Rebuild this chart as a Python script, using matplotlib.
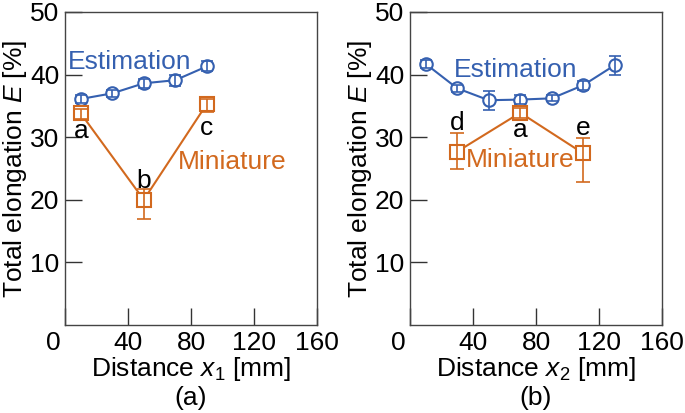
import numpy as np
import matplotlib
matplotlib.use("Agg")
import matplotlib.pyplot as plt
import matplotlib.transforms as mtransforms

plt.rcParams["font.family"] = ["Liberation Sans", "DejaVu Sans"]
plt.rcParams["mathtext.fontset"] = "custom"
plt.rcParams["mathtext.rm"] = "Liberation Sans"
plt.rcParams["mathtext.it"] = "Liberation Sans:italic"

# ---- data ----
# panel (a)
est_x_a = [10, 30, 50, 70, 90]
est_y_a = [36.1, 37.0, 38.6, 39.1, 41.3]
est_err_a = [0.6, 0.6, 0.7, 0.9, 0.8]

mini_x_a = [10, 50, 90]
mini_y_a = [33.8, 20.0, 35.3]
mini_lo_a = [0.9, 3.1, 1.3]
mini_hi_a = [0.7, 1.7, 0.8]
mini_lab_a = ["a", "b", "c"]

# panel (b)
est_x_b = [10, 30, 50, 70, 90, 110, 130]
est_y_b = [41.7, 37.8, 35.9, 36.0, 36.2, 38.3, 41.5]
est_err_b = [0.6, 0.6, 1.5, 0.7, 0.5, 0.7, 1.5]

mini_x_b = [30, 70, 110]
mini_y_b = [27.7, 33.9, 27.4]
mini_lo_b = [2.8, 0.8, 4.5]
mini_hi_b = [3.0, 0.8, 2.5]
mini_lab_b = ["d", "a", "e"]

blue = "#3560B0"
orange = "#D2691E"
fs = 19

fig = plt.figure(figsize=(6.85, 4.13), dpi=100)
ax_a = fig.add_axes([0.0949, 0.2131, 0.368, 0.758])
ax_b = fig.add_axes([0.5985, 0.2131, 0.368, 0.758])


def draw_panel(ax, ex, ey, eerr, mx, my, mlo, mhi, labs, lab_pos, xsub, tag,
               est_txt, mini_txt):
    ax.plot(ex, ey, "-", color=blue, lw=1.5, zorder=2)
    ax.plot(ex, ey, "o", ms=9, mfc="white", mec=blue, mew=1.5, zorder=3)
    ax.errorbar(ex, ey, yerr=eerr, fmt="none", ecolor=blue, elinewidth=1.2,
                capsize=4, capthick=1.2, zorder=4)

    ax.plot(mx, my, "-", color=orange, lw=1.5, zorder=2)
    ax.plot(mx, my, "s", ms=10.5, mfc="white", mec=orange, mew=1.5, zorder=3)
    ax.errorbar(mx, my, yerr=[mlo, mhi], fmt="none", ecolor=orange,
                elinewidth=1.2, capsize=5, capthick=1.2, zorder=4)

    for (lx, ly), t in zip(lab_pos, labs):
        ax.text(lx, ly, t, fontsize=fs, ha="center", va="center", color="black",
                zorder=5)

    ax.text(*est_txt, "Estimation", fontsize=fs, color=blue, ha="center",
            va="center", zorder=5)
    ax.text(*mini_txt, "Miniature", fontsize=fs, color=orange, ha="center",
            va="center", zorder=5)

    ax.set_xlim(0, 160)
    ax.set_ylim(0, 50)
    ax.set_xticks([0, 40, 80, 120, 160])
    ax.set_yticks([10, 20, 30, 40, 50])
    ax.tick_params(direction="in", length=12, width=1, colors="#333333",
                   labelsize=fs, labelcolor="black", pad=4)
    for s in ax.spines.values():
        s.set_color("#444444")
        s.set_linewidth(1)
    # shift the origin "0" label to the corner
    lab0 = ax.get_xticklabels()[0]
    lab0.set_transform(lab0.get_transform() +
                       mtransforms.ScaledTranslation(-12 / 100, 0, fig.dpi_scale_trans))

    ax.set_xlabel("Distance $x_%s$ [mm]" % xsub, fontsize=fs, labelpad=0)
    ax.set_ylabel("Total elongation $E$ [%]", fontsize=fs, labelpad=1)
    ax.text(0.5, -0.232, tag, transform=ax.transAxes, fontsize=fs,
            ha="center", va="center")


draw_panel(ax_a, est_x_a, est_y_a, est_err_a, mini_x_a, mini_y_a, mini_lo_a,
           mini_hi_a, mini_lab_a, [(10, 31.0), (50, 23.0), (90, 31.4)], "1",
           "(a)", (41, 42.0), (106, 26.0))
draw_panel(ax_b, est_x_b, est_y_b, est_err_b, mini_x_b, mini_y_b, mini_lo_b,
           mini_hi_b, mini_lab_b, [(30, 32.3), (70, 31.2), (110, 31.5)], "2",
           "(b)", (67, 40.7), (70, 26.4))

fig.savefig("out.png", dpi=100)
